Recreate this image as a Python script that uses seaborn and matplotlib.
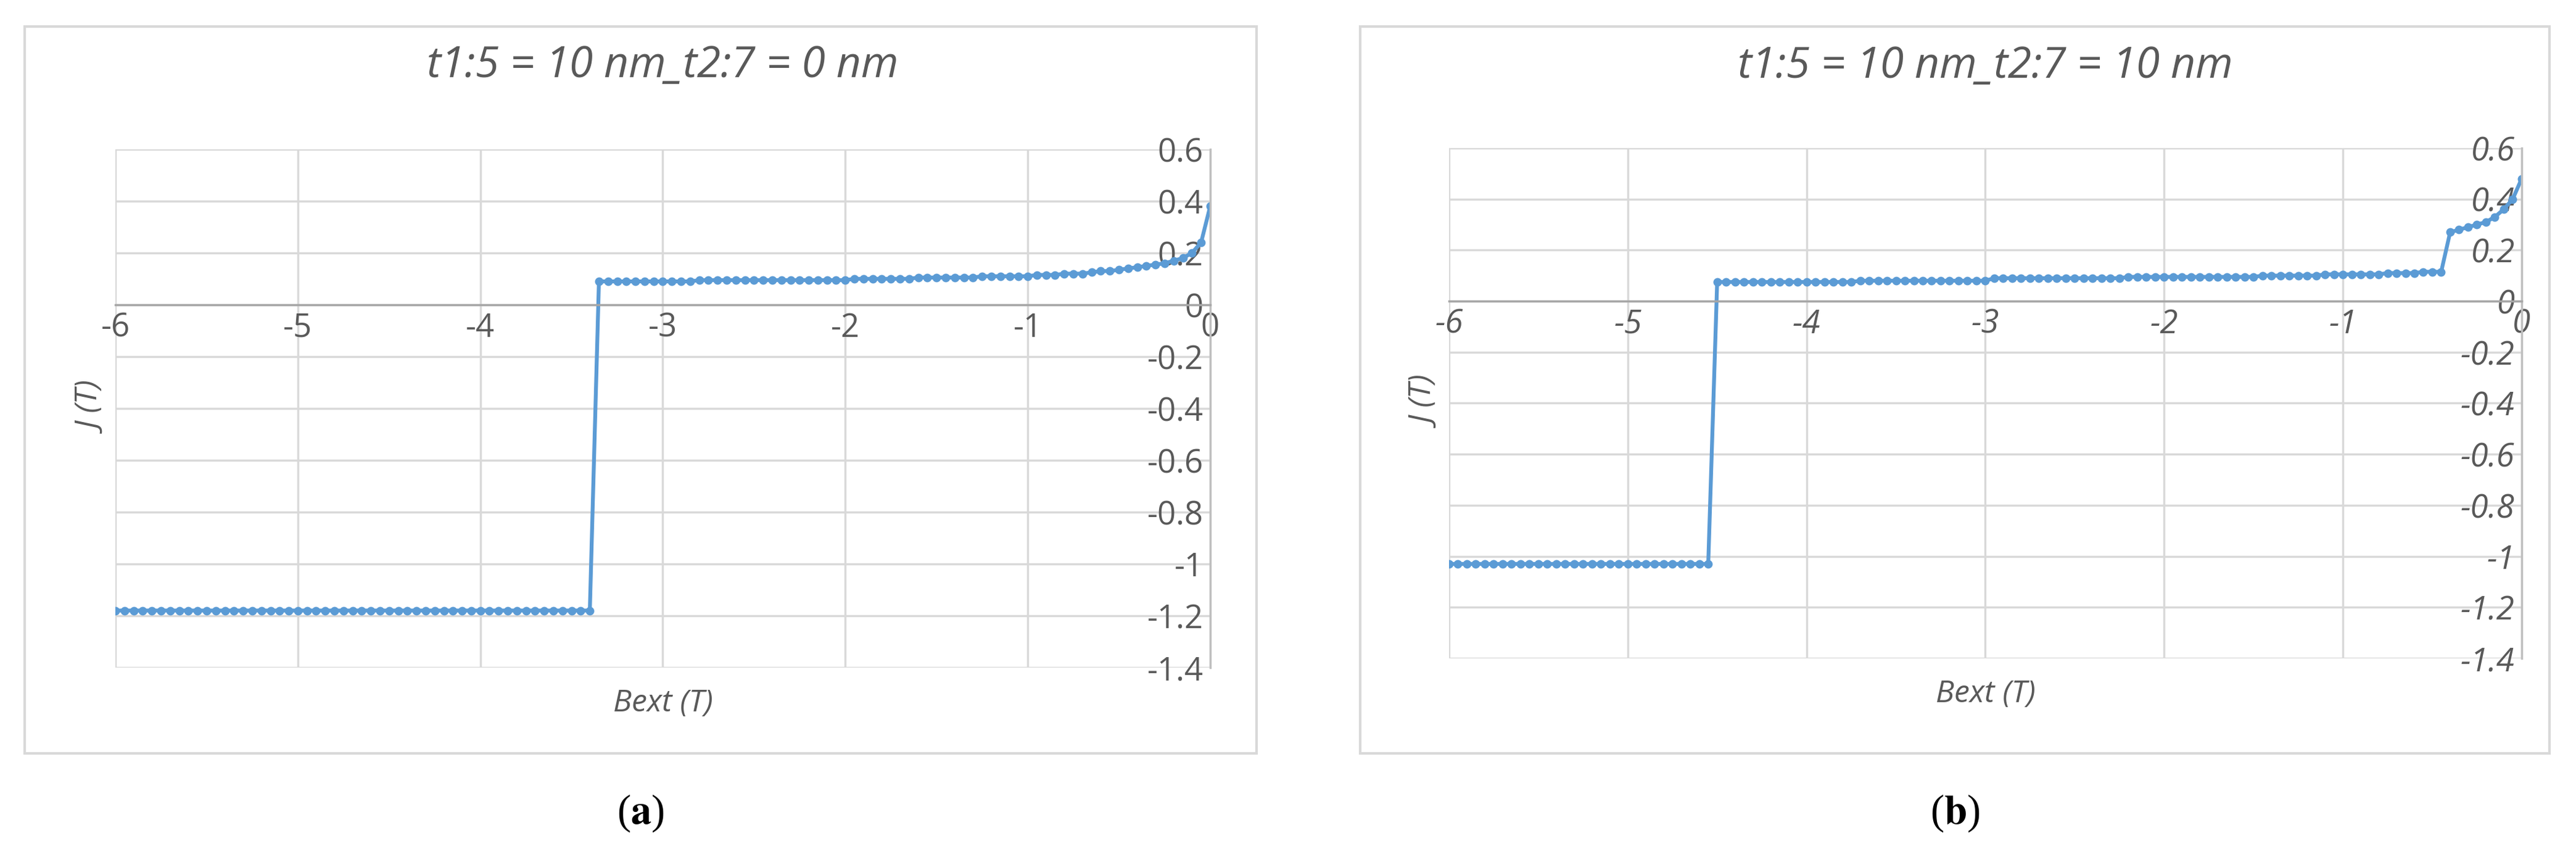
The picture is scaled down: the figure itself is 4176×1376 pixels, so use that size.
import numpy as np
import pandas as pd
import matplotlib.pyplot as plt
import seaborn as sns
from matplotlib.patches import Rectangle

# field sweep, -6 T to 0 T in 0.05 T steps
bext = list(np.round(np.arange(-6.0, 0.0001, 0.05), 2))

# (a) t1:5 = 10 nm, t2:7 = 0 nm
j_a = ([-1.18] * 53
       + [0.09] * 11
       + [0.095] * 17
       + [0.10] * 7 + [0.105] * 7
       + [0.11] * 6 + [0.115] * 3 + [0.12] * 3
       + [0.125, 0.13, 0.13, 0.135, 0.14, 0.145, 0.15, 0.155,
          0.16, 0.17, 0.18, 0.20, 0.24, 0.38])

# (b) t1:5 = 10 nm, t2:7 = 10 nm
j_b = ([-1.03] * 30
       + [0.075] * 16 + [0.08] * 15
       + [0.09] * 15 + [0.095] * 15
       + [0.10] * 7 + [0.105] * 7 + [0.11] * 4 + [0.115] * 3
       + [0.27, 0.28, 0.29, 0.30, 0.31, 0.33, 0.36, 0.40, 0.48])

titles = ["t1:5 = 10 nm_t2:7 = 0 nm", "t1:5 = 10 nm_t2:7 = 10 nm"]
captions = ["a", "b"]
x_ticks = [-6, -5, -4, -3, -2, -1, 0]
y_ticks = [0.6, 0.4, 0.2, 0, -0.2, -0.4, -0.6, -0.8, -1, -1.2, -1.4]

LINE = "#5B9BD5"
TXT = "#595959"
GRID = "#D9D9D9"

sns.set_theme(style="white")
plt.rcParams["font.family"] = ["Open Sans", "DejaVu Sans"]

fig = plt.figure(figsize=(41.76, 13.76), dpi=100)

axes_pos = [[0.0448, 0.2137, 0.4250, 0.6105],
            [0.5625, 0.2246, 0.4164, 0.6010]]
box_pos = [[40, 2037], [2205, 4133]]

for i, (yvals, pos) in enumerate(zip([j_a, j_b], axes_pos)):
    # outer chart frame
    x0, x1 = box_pos[i]
    fig.patches.append(Rectangle((x0 / 4176, 1 - 1221 / 1376), (x1 - x0) / 4176,
                                 (1221 - 43) / 1376, transform=fig.transFigure,
                                 fill=False, edgecolor=GRID, lw=3))

    ax = fig.add_axes(pos)
    df = pd.DataFrame({"Bext": bext, "J": yvals})
    sns.lineplot(data=df, x="Bext", y="J", ax=ax, color=LINE, lw=4.5,
                 marker="o", markersize=10, markeredgewidth=0, sort=False)
    ax.set_xlim(-6, 0)
    ax.set_ylim(-1.4, 0.6)
    ax.set_xticks(x_ticks)
    ax.set_yticks(y_ticks)
    ax.set_xticklabels([str(t) for t in x_ticks])
    ax.set_yticklabels([("%g" % t) for t in y_ticks])
    ax.grid(True, color=GRID, lw=2.5)
    ax.set_axisbelow(True)

    for s in ["top", "right"]:
        ax.spines[s].set_visible(False)
    ax.spines["left"].set_position(("data", 0))
    ax.spines["bottom"].set_position(("data", 0))
    ax.spines["left"].set_color("#BFBFBF")
    ax.spines["bottom"].set_color("#A6A6A6")
    ax.spines["left"].set_linewidth(2.5)
    ax.spines["bottom"].set_linewidth(2.5)
    ax.tick_params(axis="both", length=0, labelsize=38, labelcolor=TXT, pad=8)
    style = "normal" if i == 0 else "italic"
    for lab in ax.get_xticklabels() + ax.get_yticklabels():
        lab.set_fontstyle(style)

    ax.set_xlabel("")
    ax.set_ylabel("")
    ax.text(-3, -1.48, "Bext (T)", ha="center", va="top", fontsize=36,
            style="italic", color=TXT)
    ax.text(-6.12, -0.4, "J (T)", ha="center", va="center", rotation=90,
            fontsize=36, style="italic", color=TXT)
    ax.text(0.5, 1.16, titles[i], transform=ax.transAxes, ha="center",
            va="center", fontsize=50, style="italic", color=TXT)

    cx = (x0 + x1) / 2 / 4176
    fig.text(cx, 1 - 1318 / 1376, "(" + r"$\mathbf{" + captions[i] + "}$" + ")",
             ha="center", va="center", fontsize=48, family="Liberation Serif",
             color="black", math_fontfamily="stix")

fig.savefig("out.png", dpi=100, facecolor="white")
